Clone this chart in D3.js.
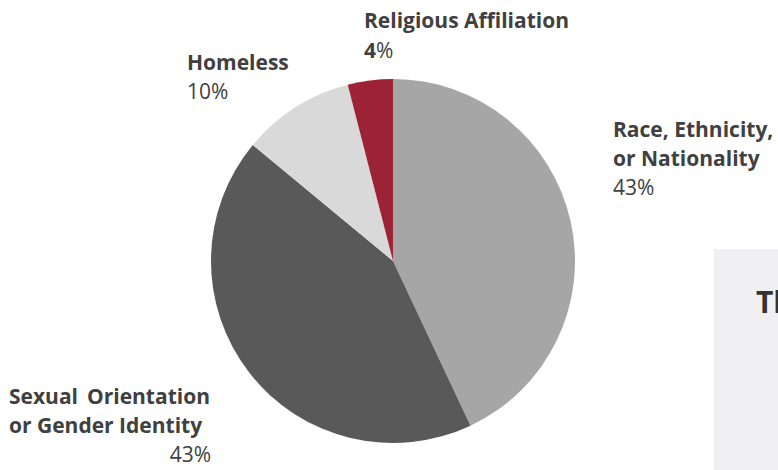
<!DOCTYPE html>
<html>
<head>
<meta charset="utf-8">
<script src="https://cdn.jsdelivr.net/npm/d3@7"></script>
<style>
  body { margin: 0; background: #fff; }
  svg text { font-family: "Open Sans", sans-serif; fill: #404040; }
  .lbl { font-weight: 700; font-size: 21px; }
  .pct { font-weight: 400; font-size: 21px; }
</style>
</head>
<body>
<svg id="chart"></svg>
<script>
// slice data, clockwise from 12 o'clock
const categories = ['Race, Ethnicity, or Nationality', 'Sexual Orientation or Gender Identity', 'Homeless', 'Religious Affiliation'];
const values = [43, 43, 10, 4];
const colors = ['#a6a6a6', '#595959', '#d9d9d9', '#9b2335'];

const width = 778, height = 470;
const cx = 393, cy = 261, radius = 182;

const svg = d3.select('#chart')
    .attr('width', width)
    .attr('height', height);

// side panel (cut off at the right edge)
svg.append('rect')
    .attr('x', 714).attr('y', 249)
    .attr('width', 80).attr('height', 230)
    .attr('fill', '#f0f0f2');
svg.append('text')
    .attr('x', 756).attr('y', 313)
    .style('font-weight', 700)
    .style('font-size', '30px')
    .style('fill', '#333')
    .text('The');

const pie = d3.pie().sort(null).value(d => d)(values);
const arc = d3.arc().innerRadius(0).outerRadius(radius);

const chart = svg.append('g')
    .attr('transform', `translate(${cx},${cy})`);

chart.selectAll('.slice')
    .data(pie)
  .join('path')
    .attr('class', 'slice')
    .attr('d', arc)
    .attr('fill', (d, i) => colors[i]);

// labels
function label(x, y, lines, pct, anchor) {
  const g = svg.append('g');
  lines.forEach((l, i) => {
    g.append('text').attr('class', 'lbl')
        .attr('x', x).attr('y', y + i * 29)
        .text(l);
  });
  return g.append('text').attr('class', 'pct')
      .attr('x', x).attr('y', y + lines.length * 29)
      .attr('text-anchor', anchor || 'start')
      .text(pct + '%');
}

// Religious Affiliation: the number is bold, % is not
svg.append('text').attr('class', 'lbl')
    .attr('x', 364).attr('y', 28)
    .text(categories[3]);
const rel = svg.append('text').attr('class', 'pct')
    .attr('x', 364).attr('y', 58);
rel.append('tspan').style('font-weight', 700).text(values[3]);
rel.append('tspan').text('%');

label(187, 70, ['Homeless'], values[2]);
label(613, 137, ['Race, Ethnicity,', 'or Nationality'], values[0]);

// Sexual Orientation block, first line justified
const so = svg.append('g');
so.append('text').attr('class', 'lbl').attr('x', 9).attr('y', 404).text('Sexual');
so.append('text').attr('class', 'lbl').attr('x', 210).attr('y', 404)
    .attr('text-anchor', 'end').text('Orientation');
so.append('text').attr('class', 'lbl').attr('x', 9).attr('y', 433).text('or Gender Identity');
so.append('text').attr('class', 'pct').attr('x', 211).attr('y', 462)
    .attr('text-anchor', 'end').text(values[1] + '%');
</script>
</body>
</html>
